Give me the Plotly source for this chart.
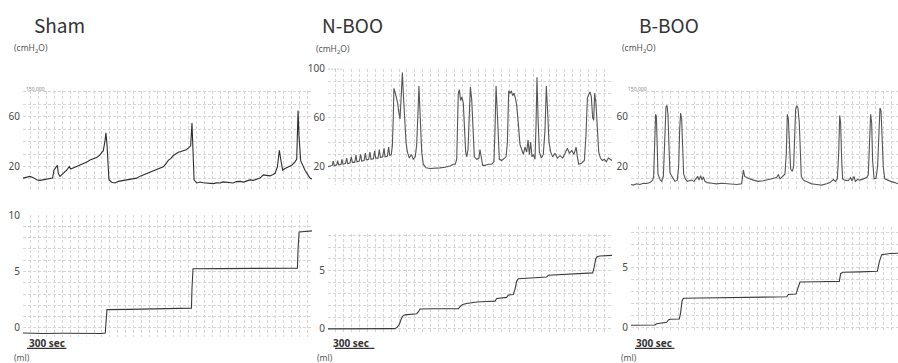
import plotly.graph_objects as go

# ---------------- data (time in seconds) ----------------
panel_titles = ["Sham", "N-BOO", "B-BOO"]
duration_s = [2196, 2158, 2029]

# Sham - intravesical pressure (cmH2O)
sham_p_t = [0, 28, 53, 78, 104, 129, 167, 205, 225, 235, 251, 261, 268, 281, 306, 332, 352, 362, 385, 408, 430, 458,
            485, 509, 535, 560, 585, 610, 623, 630, 638, 646, 653, 674, 699, 724, 762, 790, 813, 840, 864, 890, 914,
            940, 965, 990, 1016, 1040, 1066, 1085, 1104, 1125, 1142, 1160, 1180, 1200, 1218, 1240, 1256, 1274, 1284,
            1292, 1300, 1320, 1345, 1370, 1396, 1420, 1446, 1470, 1497, 1520, 1548, 1570, 1598, 1620, 1649, 1675,
            1700, 1725, 1750, 1775, 1801, 1826, 1850, 1877, 1900, 1915, 1933, 1948, 1958, 1973, 1991, 2016, 2042,
            2067, 2080, 2090, 2097, 2110, 2128, 2143, 2166, 2181, 2196]
sham_p_v = [10.6, 11.5, 12, 11, 9.3, 8.8, 9.3, 9.8, 10.6, 17, 19.7, 21, 14.5, 12, 14.5, 17, 20, 18, 19, 20, 21, 22.6,
            23.5, 25.2, 26, 27.2, 29.3, 32.7, 40.5, 47, 38, 25, 9.3, 7.3, 6.7, 8, 8.8, 9, 9.3, 10.2, 10.6, 12.2, 13.2,
            14.6, 15.8, 16.6, 17.9, 18.5, 19.7, 22, 24.9, 26.5, 28.8, 30, 31.4, 32, 32.7, 33.5, 34.8, 36.6, 55, 36,
            9.3, 6.7, 7.5, 6.9, 6.7, 6.4, 6.2, 6.8, 6.7, 7.6, 7.3, 6.9, 6.7, 7.8, 8, 7.4, 8.5, 9.2, 8.8, 9.6, 10.6,
            13.2, 12.8, 12.4, 13.6, 14.5, 19.7, 33, 26, 17, 18.4, 19.7, 21, 23.6, 26, 65, 45, 24.7, 20, 17, 13,
            10.6, 10]

# Sham - voided volume (ml)
sham_v_t = [0, 150, 300, 450, 600, 625, 631, 638, 800, 1000, 1200, 1280, 1284, 1292, 1500, 1800, 2085, 2090, 2098,
            2196]
sham_v_v = [-0.45, -0.5, -0.48, -0.5, -0.5, -0.45, 1.0, 1.62, 1.64, 1.68, 1.72, 1.75, 3.5, 5.25, 5.26, 5.28, 5.3,
            7.0, 8.5, 8.6]

# N-BOO - pressure
nboo_p_t = [0, 15, 33, 40, 48, 66, 73, 81, 99, 106, 114, 132, 142, 149, 167, 177, 185, 203, 213, 220, 238, 248, 256,
            274, 284, 291, 309, 319, 327, 345, 355, 362, 380, 390, 398, 415, 426, 433, 451, 461, 469, 481, 489, 496,
            501, 512, 522, 529, 539, 547, 555, 565, 572, 582, 593, 603, 618, 633, 648, 663, 674, 684, 691, 701, 712,
            724, 745, 775, 813, 851, 889, 927, 952, 967, 978, 990, 998, 1008, 1018, 1028, 1038, 1046, 1054, 1064,
            1071, 1082, 1092, 1102, 1112, 1130, 1147, 1155, 1163, 1175, 1193, 1218, 1244, 1261, 1269, 1277, 1284,
            1294, 1302, 1320, 1337, 1353, 1363, 1373, 1383, 1393, 1403, 1413, 1424, 1434, 1446, 1459, 1472, 1484,
            1497, 1510, 1520, 1530, 1540, 1550, 1560, 1573, 1581, 1588, 1596, 1606, 1621, 1636, 1649, 1659, 1669,
            1679, 1692, 1707, 1725, 1743, 1763, 1783, 1801, 1819, 1834, 1852, 1869, 1885, 1895, 1905, 1928, 1948,
            1960, 1971, 1981, 1991, 2001, 2011, 2019, 2026, 2036, 2047, 2057, 2070, 2085, 2100, 2115, 2130, 2158]
nboo_p_v = [20, 20.5, 21, 24.5, 20.8, 21.5, 25, 21.5, 22, 26, 22, 22.5, 27, 22.5, 23, 28, 23.5, 23.5, 29.5, 24, 24.5,
            30, 24.5, 25, 31, 25.5, 26, 32, 26, 26.5, 33, 27, 27, 34, 27.5, 28, 35, 28, 28.5, 36, 29, 30, 37, 60, 84,
            80, 76, 72, 64, 59, 75, 97, 80, 60, 40, 32, 27, 30, 26, 28, 38, 65, 86, 60, 32, 22, 19, 18.5, 18.5, 19,
            19.5, 20.5, 22, 22, 26, 80, 83, 74, 77, 72, 50, 32, 28, 34, 55, 85, 75, 45, 28, 26, 27, 34, 28, 21, 21,
            22, 22, 24, 50, 86, 70, 35, 26, 25, 27, 28, 40, 82, 80, 82, 78, 80, 76, 70, 55, 38, 34, 30, 36, 32, 42,
            30, 40, 28, 30, 26, 55, 93, 60, 32, 27, 30, 50, 86, 65, 40, 32, 28, 31, 27, 29, 27, 31, 35, 31, 33, 30,
            36, 28, 22, 23, 25, 45, 76, 79, 81, 77, 60, 58, 80, 72, 50, 32, 27, 25, 26, 24, 27, 25]

# N-BOO - volume
nboo_v_t = [0, 294, 509, 527, 542, 555, 567, 585, 623, 674, 686, 699, 800, 902, 990, 1003, 1023, 1054, 1130, 1206,
            1269, 1282, 1307, 1358, 1370, 1408, 1421, 1434, 1446, 1510, 1611, 1662, 1674, 1763, 1864, 1966, 2011,
            2021, 2034, 2047, 2067, 2158]
nboo_v_v = [0, 0, 0.02, 0.15, 0.4, 0.8, 1.1, 1.2, 1.25, 1.3, 1.45, 1.7, 1.72, 1.72, 1.72, 1.9, 2.1, 2.18, 2.3, 2.35,
            2.38, 2.6, 2.65, 2.7, 2.9, 2.95, 3.4, 4.1, 4.3, 4.35, 4.4, 4.45, 4.6, 4.65, 4.7, 4.75, 4.8, 5.2, 6.0,
            6.2, 6.25, 6.3]

# B-BOO - pressure
bboo_p_t = [0, 18, 43, 68, 94, 119, 144, 165, 172, 180, 187, 193, 198, 205, 220, 233, 246, 258, 266, 274, 281, 289,
            296, 306, 317, 334, 352, 362, 370, 377, 385, 393, 400, 413, 428, 443, 461, 479, 494, 507, 517, 529, 540,
            550, 562, 580, 613, 651, 689, 727, 765, 803, 841, 854, 864, 879, 904, 930, 968, 1006, 1044, 1082, 1107,
            1120, 1132, 1153, 1170, 1180, 1188, 1196, 1203, 1213, 1226, 1236, 1244, 1251, 1259, 1269, 1279, 1287,
            1294, 1310, 1335, 1373, 1411, 1449, 1487, 1512, 1538, 1553, 1568, 1578, 1586, 1593, 1601, 1608, 1626,
            1651, 1669, 1679, 1694, 1705, 1720, 1740, 1765, 1791, 1803, 1813, 1821, 1829, 1836, 1847, 1862, 1874,
            1884, 1892, 1900, 1907, 1917, 1928, 1948, 1973, 2004, 2029]
bboo_p_v = [5.5, 5, 6, 5.5, 6.5, 6.3, 7, 9, 12, 40, 62, 60, 30, 14, 9.5, 8, 12, 40, 68, 69, 62, 35, 15, 13, 11, 8, 9,
            20, 50, 63, 58, 35, 14, 10, 8, 8.5, 9, 8, 10, 12, 9, 12.5, 9, 11.5, 8, 7, 6.5, 6, 6.5, 6, 6, 5.5, 6, 17,
            12, 11, 10, 9, 8, 8.5, 9.5, 10, 11, 13.5, 10, 12, 14, 30, 62, 58, 35, 18, 16, 20, 45, 66, 69, 67, 55, 30,
            12, 9, 8, 6, 5.5, 5, 6, 7, 9.5, 8, 10, 30, 61, 55, 25, 10, 9, 8.5, 11, 8.5, 12, 8, 9.5, 9, 10, 11, 13,
            35, 62, 55, 25, 10, 10.5, 20, 55, 67, 65, 50, 20, 10, 9, 8, 7, 6]

# B-BOO - volume
bboo_v_t = [0, 94, 182, 195, 233, 271, 284, 296, 367, 377, 388, 398, 524, 778, 1031, 1183, 1196, 1254, 1269, 1284,
            1411, 1583, 1593, 1608, 1740, 1872, 1887, 1905, 1968, 2029]
bboo_v_v = [0.15, 0.15, 0.17, 0.28, 0.35, 0.4, 0.6, 0.66, 0.68, 1.2, 2.2, 2.43, 2.45, 2.5, 2.52, 2.55, 2.75, 2.78,
            3.3, 3.8, 3.82, 3.85, 4.5, 4.62, 4.65, 4.7, 5.5, 6.1, 6.2, 6.22]

pressure_ticks_sham = [0, 10, 20, 30, 40, 50, 60, 70, 80]
pressure_labels_sham = ["", "", "20", "", "", "", "60", "", ""]
pressure_ticks_nboo = [10, 20, 30, 40, 50, 60, 70, 80, 90, 100]
pressure_labels_nboo = ["", "20", "", "", "", "60", "", "", "", "100"]
volume_ticks_sham = [0, 1, 2, 3, 4, 5, 6, 7, 8, 9, 10]
volume_labels_sham = ["0", "", "", "", "", "5", "", "", "", "", "10"]
volume_ticks_boo = [0, 1, 2, 3, 4, 5, 6, 7, 8]
volume_labels_boo = ["0", "", "", "", "", "5", "", "", ""]
scale_bar_s = 300

# ---------------- layout helpers ----------------
W, H = 898, 363
FONT = "Noto Sans CJK JP"
NUMFONT = "Noto Sans"
GRID = dict(showgrid=True, gridcolor="#d6d6d6", griddash="3px,2px", gridwidth=1,
            zeroline=False, showline=False, ticks="")


def px_x(a, b):
    return [a / W, b / W]


def px_y(top, bottom):
    return [1 - bottom / H, 1 - top / H]


fig = go.Figure()

traces = [
    (sham_p_t, sham_p_v, "x", "y", "#2e2e2e"),
    (sham_v_t, sham_v_v, "x2", "y2", "#3a3a3a"),
    (nboo_p_t, nboo_p_v, "x3", "y3", "#555555"),
    (nboo_v_t, nboo_v_v, "x4", "y4", "#3a3a3a"),
    (bboo_p_t, bboo_p_v, "x5", "y5", "#555555"),
    (bboo_v_t, bboo_v_v, "x6", "y6", "#3a3a3a"),
]
for t, v, xa, ya, c in traces:
    fig.add_trace(go.Scatter(x=t, y=v, xaxis=xa, yaxis=ya, mode="lines",
                             line=dict(color=c, width=1.1), showlegend=False, hoverinfo="skip"))

xdoms = [px_x(23, 312), px_x(23, 312), px_x(328, 612), px_x(328, 612), px_x(631, 898), px_x(631, 898)]
ydoms = [px_y(85, 188.5), px_y(213, 338), px_y(62.5, 182), px_y(232, 335), px_y(85, 188.5), px_y(225, 333)]
xranges = [duration_s[0], duration_s[0], duration_s[1], duration_s[1], duration_s[2], duration_s[2]]
yranges = [[0, 81], [-0.78, 10], [5, 100], [-0.42, 8.17], [0, 81], [-0.4, 8.45]]
yticks = [(pressure_ticks_sham, pressure_labels_sham), (volume_ticks_sham, volume_labels_sham),
          (pressure_ticks_nboo, pressure_labels_nboo), (volume_ticks_boo, volume_labels_boo),
          (pressure_ticks_sham, pressure_labels_sham), (volume_ticks_boo, volume_labels_boo)]

lay = {}
for i in range(6):
    k = "" if i == 0 else str(i + 1)
    lay["xaxis" + k] = dict(domain=xdoms[i], range=[0, xranges[i]], tick0=0, dtick=60,
                            showticklabels=False, anchor="y" + k, **GRID)
    lay["yaxis" + k] = dict(domain=ydoms[i], range=yranges[i], tickvals=yticks[i][0],
                            ticktext=yticks[i][1], anchor="x" + k, ticklabelstandoff=2,
                            tickfont=dict(size=10, color="#4a4a4a", family=NUMFONT), **GRID)

fig.update_layout(width=W, height=H, margin=dict(l=0, r=0, t=0, b=0),
                  paper_bgcolor="white", plot_bgcolor="white", **lay)

ann = []
title_x = [32, 320, 637]
for name, x in zip(panel_titles, title_x):
    ann.append(dict(text=name, x=x / W, y=1 - 17 / H, xref="paper", yref="paper", xanchor="left",
                    yanchor="middle", showarrow=False, font=dict(size=19, color="#333333", family=FONT)))
for x, y in [(12, 42), (314, 43), (620, 42)]:
    ann.append(dict(text="(cmH<sub>2</sub>O)", x=x / W, y=1 - y / H, xref="paper", yref="paper",
                    xanchor="left", yanchor="middle", showarrow=False,
                    font=dict(size=8.5, color="#555555", family=NUMFONT)))
for x in [12, 315, 619]:
    ann.append(dict(text="(ml)", x=x / W, y=1 - 359 / H, xref="paper", yref="paper", xanchor="left",
                    yanchor="middle", showarrow=False, font=dict(size=8.5, color="#555555", family=NUMFONT)))
for x in [47, 351, 654]:
    ann.append(dict(text="<b>300 sec</b>", x=x / W, y=1 - 344 / H, xref="paper", yref="paper",
                    xanchor="center", yanchor="middle", showarrow=False,
                    font=dict(size=10, color="#333333", family=NUMFONT)))
for x in [35, 637]:
    ann.append(dict(text="150.000", x=x / W, y=1 - 83 / H, xref="paper", yref="paper", xanchor="center",
                    yanchor="middle", showarrow=False, font=dict(size=5, color="#888888", family=NUMFONT)))
fig.update_layout(annotations=ann)

shapes = []
for xr, x0 in [("x2", 30), ("x4", 53), ("x6", 30)]:
    shapes.append(dict(type="line", xref=xr, yref="paper", x0=x0, x1=x0 + scale_bar_s,
                       y0=1 - 350 / H, y1=1 - 350 / H, line=dict(color="#333333", width=1.2)))
shapes.append(dict(type="line", xref="paper", yref="y3", x0=328 / W, x1=343 / W, y0=100, y1=100,
                   line=dict(color="#777777", width=1, dash="2px,1px")))
fig.update_layout(shapes=shapes)

fig.write_html("out.html", config={"displayModeBar": False},
               post_script="document.body.style.margin='0';document.body.style.overflow='hidden';")
